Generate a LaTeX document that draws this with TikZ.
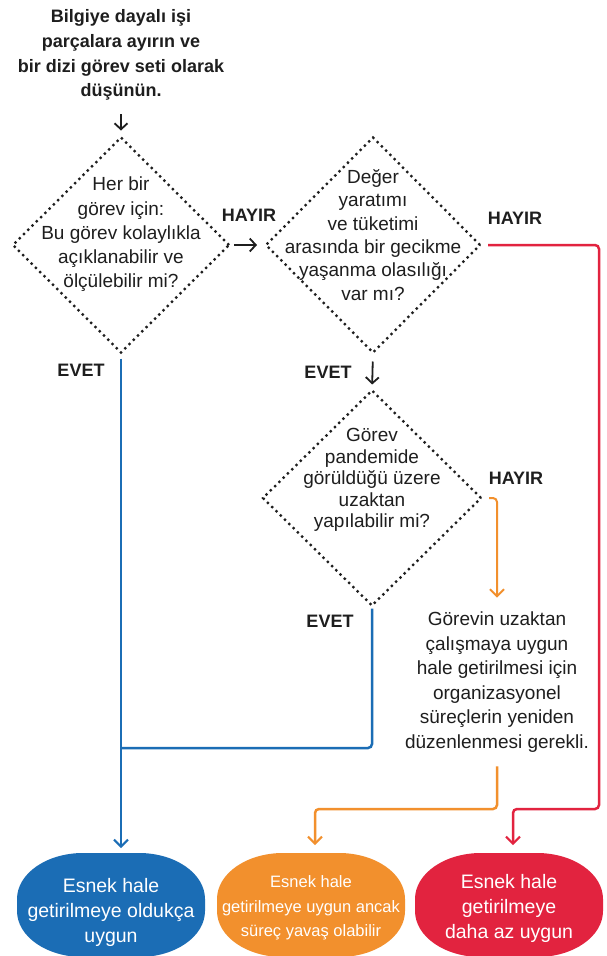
\documentclass[tikz,border=0pt]{standalone}
\usepackage{fontspec}
\setmainfont{Liberation Sans}
\usetikzlibrary{arrows.meta,shapes.geometric}
\definecolor{cblue}{HTML}{1B6DB5}
\definecolor{corange}{HTML}{F2902D}
\definecolor{cred}{HTML}{E2233F}
\definecolor{ctext}{HTML}{1E1E1E}
\newcommand{\blobfill}[2]{%
  \fill[#2] ([xshift=-28pt]#1.north) -- ([xshift=28pt]#1.north)
    arc[start angle=90,end angle=0,x radius=66pt,y radius=46pt]
    -- ([yshift=46pt]#1.south east)
    arc[start angle=0,end angle=-90,x radius=66pt,y radius=46pt]
    -- ([xshift=66pt]#1.south west)
    arc[start angle=-90,end angle=-180,x radius=66pt,y radius=46pt]
    -- ([yshift=-46pt]#1.north west)
    arc[start angle=180,end angle=90,x radius=66pt,y radius=46pt] -- cycle;}
\begin{document}
\begin{tikzpicture}[x=1pt,y=-1pt,
  dia/.style={diamond, draw=ctext, line width=2.3pt, dash pattern=on 2.3pt off 3.7pt,
    minimum width=216pt, minimum height=215pt, inner sep=0pt, outer sep=0pt},
  txt/.style={text=ctext, align=center, inner sep=0pt, outer sep=0pt},
  lbl/.style={text=ctext, inner sep=0pt, font=\bfseries\fontsize{18}{22}\selectfont},
  smallarr/.style={draw=ctext, line width=1.8pt, -{Straight Barb[length=6pt,width=13pt,line width=1.8pt]}},
  conn/.style={line width=2.5pt, rounded corners=4pt, -{Straight Barb[length=7pt,width=14pt,line width=2pt]}},
  plainline/.style={line width=2.5pt, rounded corners=4pt},
  blob/.style={minimum width=188pt, minimum height=104pt, inner sep=0pt, outer sep=0pt},
  btxt/.style={text=white, align=center, inner sep=0pt, font=\fontsize{19.5}{25}\selectfont}]
\useasboundingbox (0,0) rectangle (607,956);
\fill[white] (0,0) rectangle (607,956);

% texts and decisions
\node[txt, font=\bfseries\fontsize{18}{24.7}\selectfont] (top) at (121,55)
  {Bilgiye dayalı işi\\parçalara ayırın ve\\bir dizi görev seti olarak\\düşünün.};
\node[dia] (d1) at (121,245) {};
\node[txt, font=\fontsize{19}{24.2}\selectfont] (t1) at (121,234.5)
  {Her bir\\görev için:\\Bu görev kolaylıkla\\açıklanabilir ve\\ölçülebilir mi?};
\node[dia, minimum width=214pt] (d2) at (373,245) {};
\node[txt, font=\fontsize{19}{23.3}\selectfont] (t2) at (373,235)
  {Değer\\yaratımı\\ve tüketimi\\arasında bir gecikme\\yaşanma olasılığı\\var mı?};
\node[dia, minimum width=218pt] (d3) at (372,498) {};
\node[txt, font=\fontsize{19}{21.5}\selectfont] (t3) at (372,480)
  {Görev\\pandemide\\görüldüğü üzere\\uzaktan\\yapılabilir mi?};
\node[txt, font=\fontsize{19}{24.6}\selectfont] (box) at (497,682)
  {Görevin uzaktan\\çalışmaya uygun\\hale getirilmesi için\\organizasyonel\\süreçlerin yeniden\\düzenlenmesi gerekli.};

% labels
\node[lbl] (h1) at (249,215) {HAYIR};
\node[lbl] (h2) at (515,218) {HAYIR};
\node[lbl] (h3) at (516,478) {HAYIR};
\node[lbl] (ev1) at (81,370.5) {EVET};
\node[lbl] (ev2) at (328,372) {EVET};
\node[lbl] (ev3) at (330,621) {EVET};

% outcome blobs
\node[blob] (e1) at (111,905) {};
\node[blob] (e2) at (311,905) {};
\node[blob] (e3) at (509,905) {};
\blobfill{e1}{cblue}
\blobfill{e2}{corange}
\blobfill{e3}{cred}
\node[btxt] (b1) at (111,912) {Esnek hale\\getirilmeye oldukça\\uygun};
\node[btxt, font=\fontsize{16.5}{24.5}\selectfont] (b2) at (311,908) {Esnek hale\\getirilmeye uygun ancak\\süreç yavaş olabilir};
\node[btxt] (b3) at (509,908) {Esnek hale\\getirilmeye\\daha az uygun};

% small black arrows
\draw[smallarr, shorten <=14pt, shorten >=7pt] (top.south -| d1.north) -- (d1.north);
\draw[smallarr, shorten <=5pt, shorten >=9pt] (d1.east) -- (d2.west);
\draw[smallarr, shorten <=9pt, shorten >=6pt] (d2.south) -- (d3.north);

% coloured connectors
\coordinate (jb0) at (0,748);
\coordinate (jr) at (599,809);
\coordinate (jo) at (400,809);
\coordinate (e1n) at ([xshift=9pt]e1.north);
\coordinate (e2n) at ([xshift=4pt]e2.north);
\coordinate (e3n) at ([xshift=4pt]e3.north);

\draw[conn, cblue, shorten <=6pt, shorten >=5pt] (d1.south) -- (d1.south |- e1n);
\draw[plainline, cblue, shorten <=3pt] (d3.south) |- (d1.south |- jb0);
\draw[conn, corange, line width=2pt, shorten <=8pt, shorten >=14pt] (d3.east) -| (box.north);
\draw[conn, corange, shorten <=14pt, shorten >=8pt] (box.south) -- (box.south |- jo) -- (e2n |- jo) -- (e2n);
\draw[conn, cred, shorten <=8pt, shorten >=8pt] (d2.east) -- (d2.east -| jr) -- (jr) -- (e3n |- jr) -- (e3n);
\end{tikzpicture}
\end{document}
